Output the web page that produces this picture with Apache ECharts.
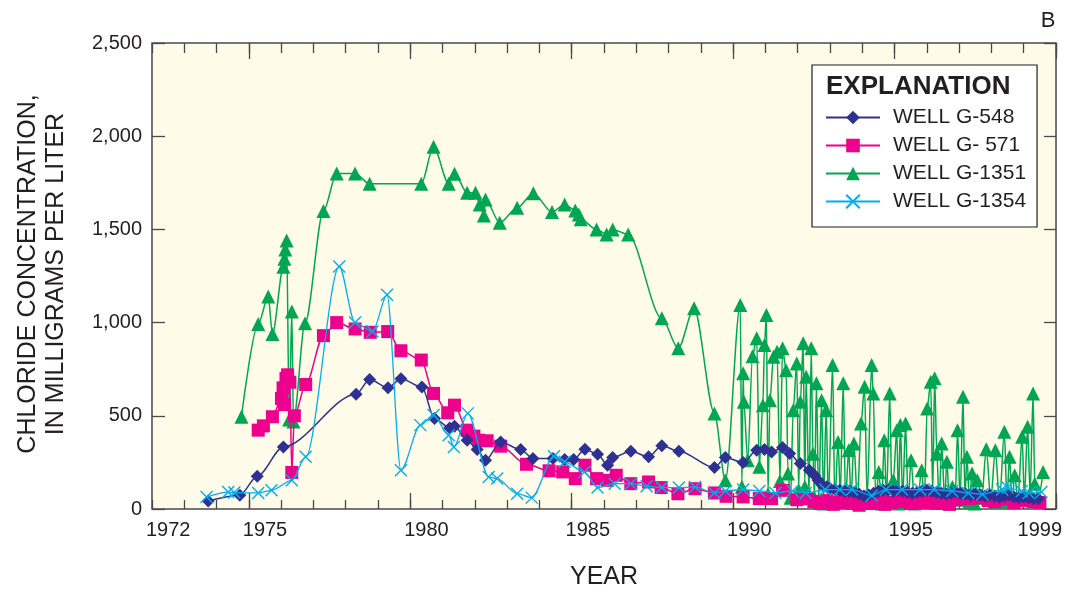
<!DOCTYPE html>
<html>
<head>
<meta charset="utf-8">
<script src="https://cdn.jsdelivr.net/npm/echarts@6/dist/echarts.min.js"></script>
<style>
html,body{margin:0;padding:0;background:#ffffff;}
#chart{width:1068px;height:592px;}
</style>
</head>
<body>
<div id="chart"></div>
<script>
// ---------- DATA ----------
const yearCategories = ['1972','1973','1974','1975','1976','1977','1978','1979','1980','1981','1982','1983','1984','1985','1986','1987','1988','1989','1990','1991','1992','1993','1994','1995','1996','1997','1998','1999'];
const labelYears = ['1972','1975','1980','1985','1990','1995','1999'];
const majorTickYears = ['1975','1980','1985','1990','1995'];
const yTickValues = [0, 500, 1000, 1500, 2000, 2500];
const seriesNames = ['WELL G-548', 'WELL G- 571', 'WELL G-1351', 'WELL G-1354'];

const wellG548 = [
  [1973.74,43],[1974.72,74],[1975.26,176],[1976.07,333],[1978.32,616],[1978.74,695],[1979.31,651],[1979.71,699],
  [1980.36,654],[1980.75,486],[1981.22,435],[1981.37,444],[1981.76,369],[1982.07,319],[1982.33,262],[1982.80,360],
  [1983.42,319],[1983.80,271],[1984.42,271],[1984.78,265],[1985.06,265],[1985.41,321],[1985.80,294],[1986.11,235],
  [1986.27,276],[1986.83,310],[1987.38,280],[1987.79,339],[1988.32,310],[1989.42,222],[1989.76,276],[1990.31,249],
  [1990.73,315],[1990.97,319],[1991.19,306],[1991.53,330],[1991.75,298],[1992.08,244],[1992.36,208],[1992.52,181],
  [1992.63,154],[1992.75,130],[1992.90,120],[1993.00,110],[1993.15,105],[1993.30,100],[1993.45,95],[1993.60,95],
  [1993.75,90],[1993.90,80],[1994.05,70],[1994.20,75],[1994.35,85],[1994.50,95],[1994.65,100],[1994.80,100],
  [1994.95,95],[1995.10,100],[1995.25,95],[1995.40,90],[1995.55,85],[1995.70,90],[1995.85,95],[1996.00,100],
  [1996.15,95],[1996.30,90],[1996.45,85],[1996.60,80],[1996.75,85],[1996.90,90],[1997.05,85],[1997.20,80],
  [1997.35,75],[1997.50,80],[1997.65,75],[1997.80,70],[1997.95,75],[1998.10,70],[1998.25,65],[1998.40,70],
  [1998.55,75],[1998.70,65],[1998.85,60],[1999.00,65],[1999.15,60],[1999.30,55],[1999.45,55]
];

const wellG571 = [
  [1975.29,423],[1975.45,446],[1975.73,495],[1976.01,593],[1976.06,650],[1976.10,560],[1976.15,700],[1976.20,720],
  [1976.27,680],[1976.33,196],[1976.41,500],[1976.76,668],[1977.31,930],[1977.72,1000],[1978.29,966],[1978.76,948],
  [1979.30,952],[1979.71,849],[1980.34,799],[1980.72,620],[1981.16,516],[1981.37,557],[1981.76,423],[1981.97,391],
  [1982.12,369],[1982.38,366],[1982.80,337],[1983.60,240],[1984.30,205],[1984.72,199],[1985.11,163],[1985.41,235],
  [1985.77,163],[1986.11,154],[1986.38,181],[1986.83,136],[1987.38,145],[1987.77,115],[1988.29,82],[1988.82,109],
  [1989.42,86],[1989.78,68],[1990.31,65],[1990.81,56],[1991.19,56],[1991.53,100],[1991.97,50],[1992.30,55],
  [1992.50,40],[1992.70,30],[1992.90,45],[1993.10,25],[1993.30,35],[1993.50,50],[1993.70,30],[1993.90,20],
  [1994.10,40],[1994.30,30],[1994.50,45],[1994.70,25],[1994.90,35],[1995.10,50],[1995.30,40],[1995.50,30],
  [1995.70,55],[1995.90,35],[1996.10,45],[1996.30,30],[1996.50,40],[1996.70,25],[1996.90,50],[1997.10,65],
  [1997.30,55],[1997.50,70],[1997.70,60],[1997.90,45],[1998.10,40],[1998.30,55],[1998.50,60],[1998.70,35],
  [1998.90,45],[1999.10,50],[1999.30,40],[1999.50,35]
];

const wellG1351 = [
  [1974.77,495],[1975.29,993],[1975.60,1140],[1975.73,939],[1976.07,1300],[1976.10,1342],[1976.13,1392],[1976.17,1441],
  [1976.25,480],[1976.33,1059],[1976.38,470],[1976.74,996],[1977.31,1599],[1977.72,1800],[1978.29,1800],[1978.74,1745],
  [1980.34,1745],[1980.72,1943],[1981.19,1745],[1981.37,1799],[1981.76,1697],[1982.02,1697],[1982.15,1634],[1982.28,1575],
  [1982.33,1661],[1982.77,1536],[1983.31,1616],[1983.81,1694],[1984.39,1593],[1984.78,1634],[1985.11,1602],[1985.22,1580],
  [1985.28,1554],[1985.77,1500],[1986.08,1473],[1986.27,1500],[1986.75,1473],[1987.79,1023],[1988.30,862],[1988.79,1077],
  [1989.42,513],[1989.76,154],[1990.22,1095],[1990.27,120],[1990.31,728],[1990.33,575],[1990.45,262],[1990.60,820],
  [1990.73,916],[1990.81,226],[1990.92,557],[1990.97,880],[1991.03,1041],[1991.08,80],[1991.14,584],[1991.25,817],
  [1991.36,844],[1991.45,150],[1991.53,862],[1991.64,745],[1991.70,190],[1991.78,60],[1991.86,530],[1991.97,781],
  [1992.03,100],[1992.08,575],[1992.17,889],[1992.22,120],[1992.26,710],[1992.35,80],[1992.42,862],[1992.47,297],
  [1992.52,60],[1992.58,674],[1992.65,40],[1992.74,584],[1992.80,30],[1992.88,530],[1992.95,60],[1993.08,772],
  [1993.15,40],[1993.25,360],[1993.32,80],[1993.41,674],[1993.48,50],[1993.58,315],[1993.65,60],[1993.74,351],
  [1993.85,40],[1993.96,459],[1994.07,656],[1994.15,60],[1994.29,772],[1994.34,620],[1994.42,40],[1994.51,199],
  [1994.60,30],[1994.68,369],[1994.75,60],[1994.85,620],[1994.92,40],[1994.96,154],[1995.07,423],[1995.12,30],
  [1995.18,450],[1995.25,50],[1995.34,459],[1995.42,40],[1995.51,262],[1995.62,29],[1995.72,60],[1995.84,208],
  [1995.92,40],[1996.01,539],[1996.12,683],[1996.18,80],[1996.24,701],[1996.31,297],[1996.38,40],[1996.46,351],
  [1996.55,50],[1996.62,253],[1996.70,30],[1996.79,118],[1996.88,60],[1996.95,423],[1997.03,50],[1997.12,602],
  [1997.18,60],[1997.24,280],[1997.32,40],[1997.40,190],[1997.48,30],[1997.56,154],[1997.70,60],[1997.84,321],
  [1997.98,50],[1998.12,315],[1998.25,40],[1998.40,414],[1998.48,50],[1998.56,280],[1998.64,40],[1998.72,181],
  [1998.82,50],[1998.95,387],[1999.02,60],[1999.12,441],[1999.20,80],[1999.29,620],[1999.34,136],[1999.45,60],
  [1999.60,199]
];

const wellG1354 = [
  [1973.69,64],[1974.36,91],[1974.55,88],[1975.29,86],[1975.70,100],[1976.33,154],[1976.76,280],[1977.80,1301],
  [1978.29,1000],[1978.83,952],[1979.28,1149],[1979.71,208],[1980.31,450],[1980.72,504],[1981.19,396],[1981.35,333],
  [1981.78,513],[1982.43,172],[1982.69,163],[1983.31,82],[1983.76,61],[1984.45,283],[1984.78,253],[1985.39,199],
  [1985.80,115],[1986.33,136],[1986.83,136],[1987.32,122],[1987.79,115],[1988.32,115],[1988.82,118],[1989.42,86],
  [1989.76,97],[1990.31,104],[1990.81,97],[1991.31,86],[1991.84,97],[1992.25,86],[1992.85,104],[1993.30,104],
  [1993.68,104],[1994.29,73],[1994.73,104],[1995.23,104],[1995.79,104],[1996.23,104],[1996.78,97],[1997.28,86],
  [1997.72,79],[1998.33,104],[1998.50,115],[1998.94,97],[1999.16,86],[1999.55,91]
];

// ---------- STYLE ----------
const FONT = '"Liberation Sans", Arial, Helvetica, sans-serif';
const TXT = '#231F20';
const AX = '#4A4A4C';
const colors = { g548: '#2E3192', g571: '#EC008C', g1351: '#00A651', g1354: '#00AEEF' };

const chart = echarts.init(document.getElementById('chart'), null, { renderer: 'canvas' });

function catAxis(position, tickLen, tickFilter, showLabels) {
  return {
    type: 'category', data: yearCategories, position: position, boundaryGap: true,
    axisLine: { show: false },
    axisTick: { show: true, inside: true, length: tickLen, alignWithLabel: false,
      interval: function (idx, val) { return tickFilter(val); },
      lineStyle: { color: AX, width: 1.3 } },
    axisLabel: showLabels ? {
      show: true, fontSize: 20, color: TXT, fontFamily: FONT, margin: 11,
      interval: function (idx, val) { return labelYears.indexOf(val) >= 0; }
    } : { show: false },
    splitLine: { show: false }
  };
}

const bottomLabelAxis = catAxis('bottom', 9, function () { return true; }, true);
bottomLabelAxis.name = 'YEAR';
bottomLabelAxis.nameLocation = 'middle';
bottomLabelAxis.nameGap = 56;
bottomLabelAxis.nameTextStyle = { fontSize: 25, color: TXT, fontFamily: FONT };

const crossSymbol = 'path://M0,0 L10,10 M10,0 L0,10';

const option = {
  animation: false,
  backgroundColor: '#ffffff',
  grid: { left: 152, right: 12, top: 43, bottom: 83, show: true, containLabel: false,
    outerBoundsMode: 'none',
    backgroundColor: '#FEFBE9', borderColor: AX, borderWidth: 1.5 },
  xAxis: [
    { type: 'value', min: 1972, max: 2000, position: 'bottom',
      axisLine: { show: false }, axisTick: { show: false }, axisLabel: { show: false }, splitLine: { show: false } },
    bottomLabelAxis,
    catAxis('bottom', 16, function (v) { return majorTickYears.indexOf(v) >= 0; }, false),
    catAxis('top', 10, function () { return true; }, false),
    catAxis('top', 16, function (v) { return majorTickYears.indexOf(v) >= 0; }, false)
  ],
  yAxis: [
    { type: 'value', min: yTickValues[0], max: yTickValues[yTickValues.length - 1], interval: 500, position: 'left',
      axisLine: { show: false },
      axisTick: { show: true, inside: true, length: 13, lineStyle: { color: AX, width: 1.3 } },
      axisLabel: { fontSize: 20, color: TXT, fontFamily: FONT, margin: 10,
        formatter: function (v) { return v.toLocaleString('en-US'); } },
      splitLine: { show: false } },
    { type: 'value', min: yTickValues[0], max: yTickValues[yTickValues.length - 1], interval: 500, position: 'right',
      axisLine: { show: false },
      axisTick: { show: true, inside: true, length: 12, lineStyle: { color: AX, width: 1.3 } },
      axisLabel: { show: false }, splitLine: { show: false } }
  ],
  legend: {
    data: seriesNames, orient: 'vertical', left: 812, top: 65,
    padding: [42, 11, 15, 13], itemWidth: 54, itemHeight: 17, itemGap: 7,
    backgroundColor: '#ffffff', borderColor: TXT, borderWidth: 1.2,
    textStyle: { fontSize: 21, color: TXT, fontFamily: FONT, padding: [0, 0, 0, 8] },
    selectedMode: false
  },
  graphic: [
    { type: 'text', x: 826, y: 87, z: 100, style: { text: 'EXPLANATION', fontSize: 26, fontWeight: 'bold',
      fontFamily: FONT, fill: TXT, align: 'left', verticalAlign: 'middle' } },
    { type: 'text', x: 28, y: 274, rotation: Math.PI / 2, style: { text: 'CHLORIDE CONCENTRATION,', fontSize: 25,
      fontFamily: FONT, fill: TXT, align: 'center', verticalAlign: 'middle' } },
    { type: 'text', x: 56, y: 274, rotation: Math.PI / 2, style: { text: 'IN MILLIGRAMS PER LITER', fontSize: 25,
      fontFamily: FONT, fill: TXT, align: 'center', verticalAlign: 'middle' } },
    { type: 'text', x: 1048, y: 21, style: { text: 'B', fontSize: 22, fontFamily: FONT, fill: TXT,
      align: 'center', verticalAlign: 'middle' } }
  ],
  series: [
    { name: seriesNames[2], type: 'line', data: wellG1351, xAxisIndex: 0, yAxisIndex: 0,
      smooth: 0.3, smoothMonotone: 'x', symbol: 'triangle', symbolSize: 14, color: colors.g1351,
      lineStyle: { width: 1.5, color: colors.g1351 }, itemStyle: { color: colors.g1351 }, z: 2 },
    { name: seriesNames[1], type: 'line', data: wellG571, xAxisIndex: 0, yAxisIndex: 0,
      smooth: 0.3, smoothMonotone: 'x', symbol: 'rect', symbolSize: 13, color: colors.g571,
      lineStyle: { width: 1.5, color: colors.g571 }, itemStyle: { color: colors.g571 }, z: 3 },
    { name: seriesNames[0], type: 'line', data: wellG548, xAxisIndex: 0, yAxisIndex: 0,
      smooth: 0.3, smoothMonotone: 'x', symbol: 'diamond', symbolSize: 13, color: colors.g548,
      lineStyle: { width: 1.5, color: colors.g548 }, itemStyle: { color: colors.g548 }, z: 4 },
    { name: seriesNames[3], type: 'line', data: wellG1354, xAxisIndex: 0, yAxisIndex: 0,
      smooth: 0.3, smoothMonotone: 'x', symbol: crossSymbol, symbolSize: 12, color: colors.g1354,
      lineStyle: { width: 1.3, color: colors.g1354 },
      itemStyle: { color: colors.g1354, borderColor: colors.g1354, borderWidth: 1.4 }, z: 5 }
  ]
};

chart.setOption(option);
</script>
</body>
</html>
